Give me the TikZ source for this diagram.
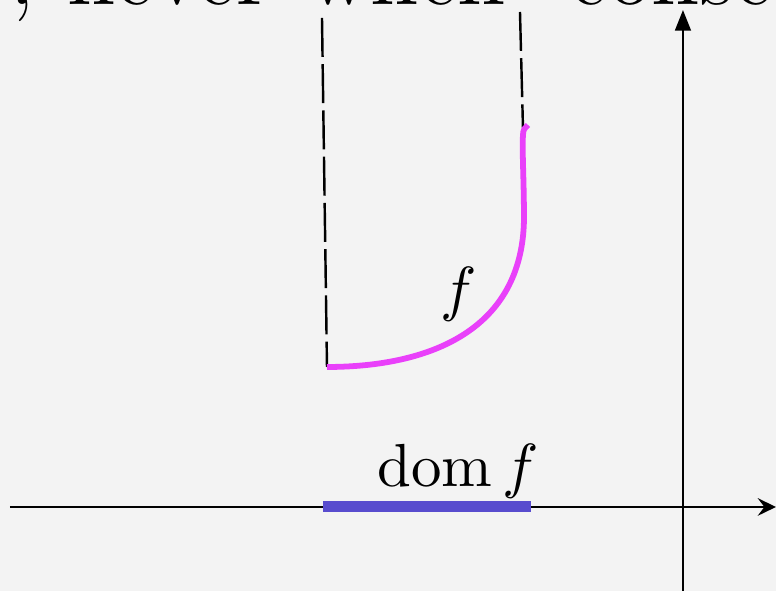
\documentclass[tikz,border=0pt]{standalone}
\usepackage{tikz}
\usetikzlibrary{arrows.meta}
\definecolor{paper}{RGB}{243,243,243}
\definecolor{fcurve}{RGB}{233,64,250}
\definecolor{domblue}{RGB}{88,76,206}

\begin{document}
\begin{tikzpicture}[
x=0.1643pt, y=-0.1643pt,
axis/.style={line width=0.35pt},
guide/.style={line width=0.4pt, dash pattern=on 6.4pt off 1.2pt},
graph/.style={line width=0.95pt, draw=fcurve},
dom/.style={line width=1.8pt, draw=domblue},
lbl/.style={inner sep=0pt, anchor=base}
]
\clip (0,0) rectangle (776,591);
\fill[paper] (0,0) rectangle (776,591);

% text line cut off by the top edge
\node[lbl, anchor=base west, font=\fontsize{14.6}{18}\selectfont] (line) at (9,5)
  {,\hspace{5.4pt}never\hspace{6.2pt}when\hspace{10.4pt}conse};

\coordinate (xl) at (10,507);
\coordinate (xr) at (776,507);
\coordinate (yb) at (683,591);
\coordinate (yt) at (683,10);
\coordinate (la) at (322,18);
\coordinate (lb) at (327,367);
\coordinate (ra) at (520,12);
\coordinate (rb) at (523,128);
\coordinate (da) at (323,507);
\coordinate (db) at (531,507);

% axes
\draw[axis, -{Stealth[length=3pt, width=2.9pt, inset=1.1pt]}] (xl) -- (xr);
\draw[axis, -{Triangle[length=3.4pt, width=2.6pt]}] (yb) -- (yt);

% asymptotes
\draw[guide] (la) -- (lb);
\draw[guide] (ra) -- (rb);

% graph of f
\draw[graph] (lb) .. controls (430,367) and (522,330) .. (524,220)
  .. controls (524,180) and (522,150) .. (523,135)
  .. controls (523,130) and (525,127) .. (528,125);
\node[lbl] (flab) at (459,310) {$f$};

% domain
\draw[dom] (da) -- (db);
\node[lbl] (domlab) at (458,487) {$\mathrm{dom}\,f$};
\end{tikzpicture}
\end{document}
